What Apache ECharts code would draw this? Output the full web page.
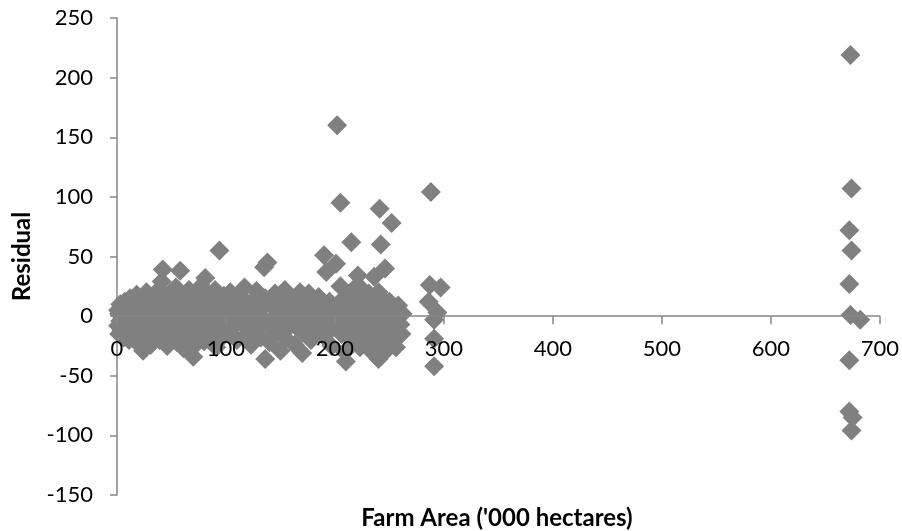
<!DOCTYPE html>
<html>
<head>
<meta charset="utf-8">
<title>Residual vs Farm Area</title>
<script src="https://cdn.jsdelivr.net/npm/echarts@6/dist/echarts.min.js"></script>
<style>
  html, body { margin: 0; padding: 0; background: #ffffff; }
  #chart { width: 902px; height: 531px; }
</style>
</head>
<body>
<div id="chart"></div>
<script>
// Residuals plotted against farm area ('000 hectares), as [area, residual] pairs.
const farmsUpTo50 = [
  [1, 5], [1, -8], [2, 2], [2, -15], [3, 10], [3, -4], [4, -12], [5, 6], [5, -2], [6, -18],
  [7, 12], [7, 0], [8, -6], [9, 3], [10, -10], [10, 8], [11, -20], [12, 15], [12, -3], [13, 4],
  [14, -13], [15, 0], [16, 9], [17, -7], [18, -22], [18, 18], [19, 2], [20, -15], [21, 6], [22, -5],
  [23, 13], [24, -29], [25, -10], [26, 3], [27, 20], [28, -17], [29, 8], [30, -3], [31, -24], [32, 12],
  [33, 0], [34, -8], [35, 17], [36, -14], [37, 5], [38, 22], [39, -20], [40, -2], [41, 29], [42, 10],
  [42, 39], [43, -12], [44, 2], [45, 15], [46, -25], [47, -6], [48, 8], [49, 19], [50, -16]
];
const farms50to100 = [
  [51, 0], [52, 11], [53, -9], [54, 24], [55, -22], [56, 4], [57, -4], [58, 38], [58, 14], [59, -14],
  [60, 7], [61, -27], [62, 18], [63, -1], [64, -11], [65, 9], [66, 22], [67, -19], [68, 2], [70, -34],
  [70, 13], [71, -7], [72, -24], [73, 5], [74, 17], [75, -15], [76, 0], [77, 25], [78, -10], [79, 10],
  [80, -21], [81, 32], [82, 3], [83, -5], [84, 19], [85, -17], [86, 8], [87, -2], [88, 14], [89, -12],
  [90, 22], [91, -26], [92, 4], [94, 55], [94, -8], [95, 12], [96, -18], [97, 0], [98, 17], [99, -5]
];
const farms100to200 = [
  [100, 7], [102, -14], [104, 20], [105, 0], [107, -9], [109, 11], [110, -20], [112, 3], [114, 16], [115, -6],
  [117, 24], [118, -16], [120, 8], [122, -2], [123, -24], [125, 13], [127, -10], [128, 21], [130, 1], [132, -18],
  [133, 6], [135, 41], [136, -36], [136, 15], [138, 45], [138, -7], [140, -22], [141, 10], [143, -2], [145, 19],
  [146, -13], [148, 4], [150, -29], [150, 12], [152, -5], [154, 22], [155, -19], [157, 7], [158, -9], [160, 14],
  [162, 0], [163, -24], [165, 9], [167, -3], [168, 20], [170, -31], [170, -14], [172, 5], [174, 13], [175, -7],
  [176, 19], [178, -20], [179, 2], [181, 10], [183, -12], [185, 16], [186, -2], [188, 7], [190, 51], [190, -17],
  [192, 37], [192, -6], [193, 3], [195, 12], [196, -10], [197, -25], [198, 0]
];
const farms200to300 = [
  [202, 160], [201, 44], [205, 95], [203, 8], [204, -5], [205, 25], [206, -15], [207, 2], [208, 15], [209, -30],
  [210, -38], [211, -8], [212, 5], [215, 62], [214, 18], [215, -20], [216, -2], [218, 10], [219, -12], [221, 34],
  [221, 26], [222, 0], [223, -26], [224, 8], [225, -16], [226, 14], [228, -5], [229, 3], [230, -22], [231, 19],
  [232, -10], [233, 6], [234, -30], [235, 12], [236, 33], [237, -3], [238, -18], [240, -36], [241, 90], [240, 20],
  [241, -8], [242, 60], [242, 4], [243, -24], [244, 14], [246, 40], [245, -14], [246, 1], [247, 8], [248, -28],
  [249, -4], [250, 12], [251, -18], [252, 78], [253, 3], [254, -10], [255, 6], [256, -26], [257, -2], [258, 9],
  [260, -7], [261, -15], [262, 2],
  [288, 104], [287, 26], [297, 24], [286, 12], [294, 3], [291, -3], [291, -19], [291, -42]
];
const farmsAbove600 = [
  [673, 219], [674, 107], [672, 72], [674, 55], [672, 27], [673, 1], [682, -3],
  [672, -37], [672, -80], [675, -85], [674, -96]
];

// Axis ranges and tick steps
const xTicks = { min: 0, max: 700, step: 100 };
const yTicks = { min: -150, max: 250, step: 50 };

const points = [].concat(farmsUpTo50, farms50to100, farms100to200, farms200to300, farmsAbove600);

const chartWidth = 902, chartHeight = 531;
const grid = { left: 117, right: 22, top: 18, bottom: 36 };

// The horizontal axis crosses the vertical one at residual = 0; shift it up
// from the bottom of the plot by the share of the range that lies below zero.
const plotHeight = chartHeight - grid.top - grid.bottom;
const zeroShift = plotHeight * (0 - yTicks.min) / (yTicks.max - yTicks.min);

const chart = echarts.init(document.getElementById('chart'), null, { renderer: 'canvas' });

const axisGray = '#868686';
const fontFamily = 'Lato, "Open Sans", sans-serif';

chart.setOption({
  animation: false,
  backgroundColor: '#ffffff',
  grid: Object.assign({ containLabel: false }, grid),
  xAxis: {
    type: 'value',
    min: xTicks.min,
    max: xTicks.max,
    interval: xTicks.step,
    position: 'bottom',
    offset: -zeroShift,
    z: 10,
    axisLine: { show: true, onZero: false, lineStyle: { color: axisGray, width: 1.5 } },
    axisTick: { show: true, inside: false, length: 8, lineStyle: { color: axisGray, width: 1.5 } },
    axisLabel: { color: '#000000', fontSize: 22, fontFamily: fontFamily, margin: 22 },
    splitLine: { show: false }
  },
  yAxis: {
    type: 'value',
    min: yTicks.min,
    max: yTicks.max,
    interval: yTicks.step,
    name: 'Residual',
    nameLocation: 'middle',
    nameGap: 83,
    nameRotate: 90,
    nameTextStyle: { color: '#000000', fontSize: 24, fontWeight: 'bold', fontFamily: fontFamily },
    axisLine: { show: true, onZero: false, lineStyle: { color: axisGray, width: 1.5 } },
    axisTick: { show: true, inside: false, length: 7, lineStyle: { color: axisGray, width: 1.5 } },
    axisLabel: { color: '#000000', fontSize: 22, fontFamily: fontFamily, margin: 24 },
    splitLine: { show: false }
  },
  graphic: [{
    type: 'text',
    x: 497,
    y: 518,
    style: {
      text: "Farm Area ('000 hectares)",
      fill: '#000000',
      font: 'bold 24px ' + fontFamily,
      align: 'center',
      verticalAlign: 'middle'
    }
  }],
  series: [{
    type: 'scatter',
    symbol: 'diamond',
    symbolSize: 20,
    itemStyle: { color: '#808080', opacity: 1 },
    data: points
  }]
});
</script>
</body>
</html>
